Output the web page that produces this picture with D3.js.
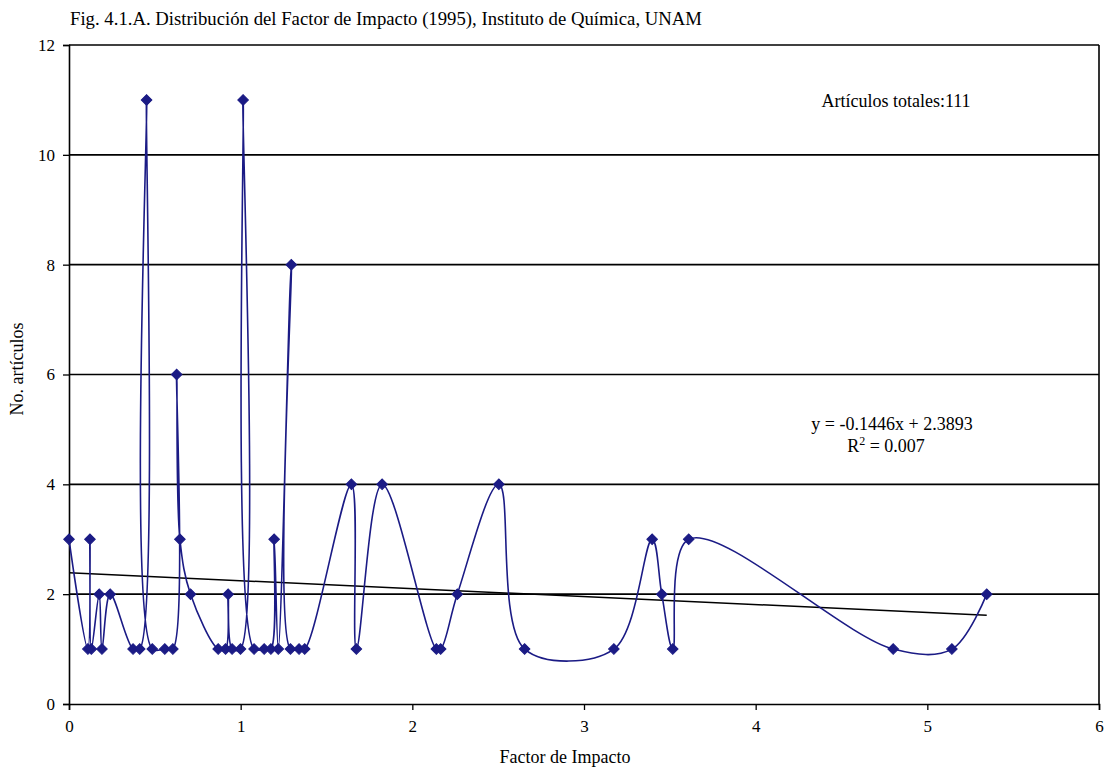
<!DOCTYPE html>
<html>
<head>
<meta charset="utf-8">
<script src="https://cdn.jsdelivr.net/npm/d3@7"></script>
<style>
  body { margin: 0; background: #fff; }
  text { font-family: "Liberation Serif", "Times New Roman", serif; fill: #000; }
</style>
</head>
<body>
<div id="chart"></div>
<script>
var width = 1105,
    height = 770;

var margin = {top: 45, right: 6, bottom: 66, left: 69};

// factor de impacto (x) y numero de articulos (y), en el orden de la serie
var impactX = [0.000, 0.110, 0.122, 0.130, 0.176, 0.192, 0.240, 0.373, 0.412, 0.452, 0.485,
    0.558, 0.605, 0.627, 0.646, 0.708, 0.869, 0.912, 0.927, 0.950, 0.999, 1.014, 1.078,
    1.137, 1.176, 1.195, 1.219, 1.295, 1.290, 1.340, 1.373, 1.645, 1.674, 1.824,
    2.140, 2.165, 2.262, 2.504, 2.654, 3.174, 3.397, 3.453, 3.517, 3.610, 4.801, 5.143, 5.346];
var articles = [3, 1, 3, 1, 2, 1, 2, 1, 1, 11, 1,
    1, 1, 6, 3, 2, 1, 1, 2, 1, 1, 11, 1,
    1, 1, 3, 1, 8, 1, 1, 1, 4, 1, 4,
    1, 1, 2, 4, 1, 1, 3, 2, 1, 3, 1, 1, 2];

var xTicks = [0, 1, 2, 3, 4, 5, 6];
var yTicks = [0, 2, 4, 6, 8, 10, 12];

var trendSlope = -0.1446,
    trendIntercept = 2.3893;

var title = "Fig. 4.1.A. Distribución del Factor de Impacto (1995), Instituto de Química, UNAM";
var xLabel = "Factor de Impacto";
var yLabel = "No. artículos";
var totalLabel = "Artículos totales:111";
var eqLabel = "y = -0.1446x + 2.3893";

var navy = "#1b1b85";

var svg = d3.select("#chart").append("svg")
    .attr("width", width)
    .attr("height", height);

var x = d3.scaleLinear().domain([0, 6]).range([margin.left, width - margin.right]);
var y = d3.scaleLinear().domain([0, 12]).range([height - margin.bottom, margin.top]);

var data = impactX.map(function (d, i) { return {x: d, y: articles[i]}; });

// lineas de cuadricula
svg.append("g")
    .selectAll("line")
    .data(yTicks.slice(1))
    .enter()
    .append("line")
    .attr("x1", x(0))
    .attr("x2", x(6))
    .attr("y1", function (d) { return y(d); })
    .attr("y2", function (d) { return y(d); })
    .style("stroke", "#000")
    .style("stroke-width", 1.6);

// borde derecho
svg.append("line")
    .attr("x1", x(6)).attr("x2", x(6))
    .attr("y1", y(12)).attr("y2", y(0))
    .style("stroke", "#000")
    .style("stroke-width", 1.6);

var xAxis = svg.append("g")
    .attr("transform", "translate(0," + y(0) + ")")
    .call(d3.axisBottom(x).tickValues(xTicks).tickSize(6).tickFormat(d3.format("d")));

var yAxis = svg.append("g")
    .attr("transform", "translate(" + x(0) + ",0)")
    .call(d3.axisLeft(y).tickValues(yTicks).tickSize(6).tickFormat(d3.format("d")));

[xAxis, yAxis].forEach(function (ax) {
    ax.select(".domain").style("stroke", "#000").style("stroke-width", 1.6);
    ax.selectAll(".tick line").style("stroke", "#000").style("stroke-width", 1.3);
    ax.selectAll(".tick text")
        .style("font-family", "'Liberation Serif', serif")
        .style("font-size", "17px")
        .style("fill", "#000");
});
xAxis.selectAll(".tick text").attr("dy", "1.1em");
yAxis.selectAll(".tick text").attr("x", -14);

// linea de tendencia
var trendEnd = d3.max(impactX);
svg.append("line")
    .attr("x1", x(0))
    .attr("y1", y(trendIntercept))
    .attr("x2", x(trendEnd))
    .attr("y2", y(trendIntercept + trendSlope * trendEnd))
    .style("stroke", "#000")
    .style("stroke-width", 1.5);

// serie suavizada
var line = d3.line()
    .x(function (d) { return x(d.x); })
    .y(function (d) { return y(d.y); })
    .curve(d3.curveCatmullRom.alpha(0.5));

svg.append("path")
    .datum(data)
    .attr("d", line)
    .attr("fill", "none")
    .style("stroke", navy)
    .style("stroke-width", 1.6);

var diamond = d3.symbol().type(d3.symbolSquare).size(56);

svg.append("g")
    .selectAll("path")
    .data(data)
    .enter()
    .append("path")
    .attr("d", diamond)
    .attr("transform", function (d) {
        return "translate(" + x(d.x) + "," + y(d.y) + ") rotate(45)";
    })
    .style("fill", navy)
    .style("stroke", navy)
    .style("stroke-width", 1);

// textos
svg.append("text")
    .attr("x", 70)
    .attr("y", 25)
    .attr("font-size", 18.6)
    .attr("textLength", 632)
    .attr("lengthAdjust", "spacingAndGlyphs")
    .text(title);

svg.append("text")
    .attr("x", 565)
    .attr("y", 763)
    .attr("text-anchor", "middle")
    .attr("font-size", 18)
    .text(xLabel);

svg.append("text")
    .attr("transform", "translate(23,369) rotate(-90)")
    .attr("text-anchor", "middle")
    .attr("font-size", 18)
    .text(yLabel);

svg.append("text")
    .attr("x", 896)
    .attr("y", 107)
    .attr("text-anchor", "middle")
    .attr("font-size", 18)
    .text(totalLabel);

svg.append("text")
    .attr("x", 892)
    .attr("y", 430)
    .attr("text-anchor", "middle")
    .attr("font-size", 18)
    .text(eqLabel);

var r2 = svg.append("text")
    .attr("x", 886)
    .attr("y", 452)
    .attr("text-anchor", "middle")
    .attr("font-size", 18);
r2.append("tspan").text("R");
r2.append("tspan").attr("dy", -7).attr("font-size", 12).text("2");
r2.append("tspan").attr("dy", 7).text(" = 0.007");
</script>
</body>
</html>
